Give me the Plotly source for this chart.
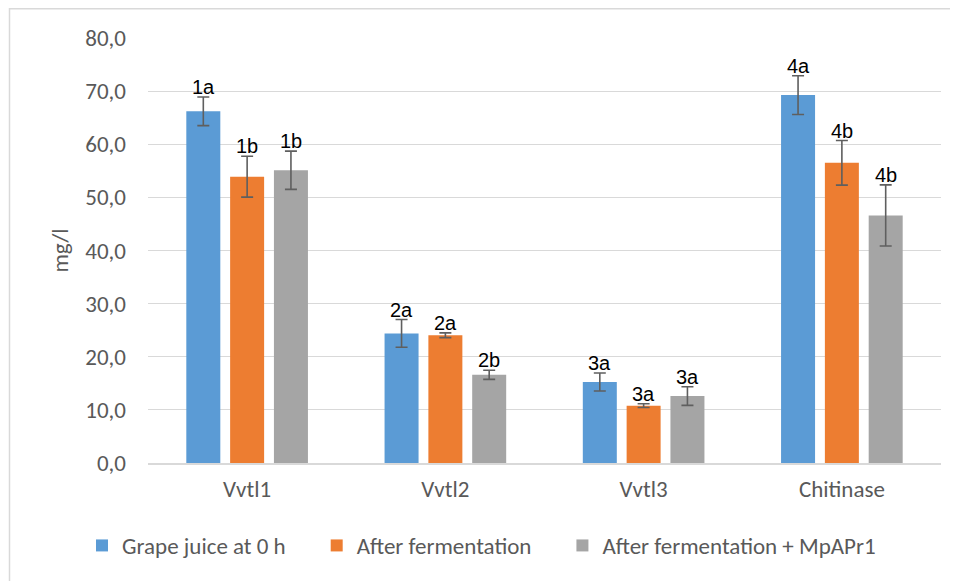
import plotly.graph_objects as go

categories = ["Vvtl1", "Vvtl2", "Vvtl3", "Chitinase"]
series_names = ["Grape juice at 0 h", "After fermentation", "After fermentation + MpAPr1"]
grape_juice = [66.2, 24.4, 15.25, 69.25]
after_ferm = [53.9, 24.05, 10.8, 56.5]
after_ferm_mp = [55.1, 16.6, 12.6, 46.6]
err_grape = [2.7, 2.6, 1.7, 3.65]
err_ferm = [3.85, 0.45, 0.35, 4.2]
err_ferm_mp = [3.6, 0.85, 1.75, 5.75]
labels_grape = ["1a", "2a", "3a", "4a"]
labels_ferm = ["1b", "2a", "3a", "4b"]
labels_ferm_mp = ["1b", "2b", "3a", "4b"]
y_ticks = [0, 10, 20, 30, 40, 50, 60, 70, 80]

values = [grape_juice, after_ferm, after_ferm_mp]
errors = [err_grape, err_ferm, err_ferm_mp]
letters = [labels_grape, labels_ferm, labels_ferm_mp]
colors = ["#5B9BD5", "#ED7D31", "#A5A5A5"]

TXT = "#595959"
FONT = "Carlito, Lato, sans-serif"
FS = 23
PAD = "\u00a0" * 5  # visual spacing between legend entries

# page body has an 8px default margin; figure is sized to fit the window
W, H = 950, 573
L, T = 140, 30
PW, PH = 793, 424.6
R = W - L - PW
B = H - T - PH

fig = go.Figure()
for k, (name, vals, errs, col) in enumerate(zip(series_names, values, errors, colors)):
    fig.add_trace(go.Bar(
        x=categories, y=vals, name=name + (PAD if k < len(series_names) - 1 else ""),
        marker=dict(color=col, line=dict(width=0)),
        error_y=dict(type="data", array=errs, visible=True,
                     color="#5f5f5f", thickness=1.6, width=6),
    ))

BARGAP = 0.337
slot = (1 - BARGAP) / 3
annotations = []
for j, (vals, errs, labs) in enumerate(zip(values, errors, letters)):
    for i, (v, e, t) in enumerate(zip(vals, errs, labs)):
        annotations.append(dict(
            x=i + (j - 1) * slot, y=v + e, xref="x", yref="y",
            text=t, showarrow=False, yanchor="bottom",
            font=dict(family="Liberation Sans, Arial, sans-serif", size=20, color="#000000"),
            yshift=-3,
        ))

fig.update_layout(
    width=W, height=H,
    margin=dict(l=L, r=R, t=T, b=B, autoexpand=False),
    paper_bgcolor="white", plot_bgcolor="white",
    barmode="group", bargap=BARGAP, bargroupgap=0.224,
    separators=",.",
    font=dict(family=FONT, color=TXT, size=FS),
    showlegend=True,
    legend=dict(orientation="h", x=(82 - 148) / PW, xanchor="left",
                y=(PH - (545 - 38)) / PH, yanchor="middle",
                font=dict(family=FONT, size=FS, color=TXT), traceorder="normal"),
    annotations=annotations,
    shapes=[dict(type="rect", xref="paper", yref="paper",
                 x0=(1.5 - L) / PW, x1=1.05, y0=-0.4, y1=(PH + T - 0.7) / PH,
                 line=dict(color="#d9d9d9", width=1.5), fillcolor="rgba(0,0,0,0)", layer="below")],
)
fig.update_yaxes(
    range=[0, 80], tickvals=y_ticks, tickformat=".1f",
    showgrid=True, gridcolor="#d9d9d9", gridwidth=1,
    zeroline=False, showline=False,
    ticklabelstandoff=21,
    tickfont=dict(family=FONT, size=FS, color=TXT),
    title=dict(text="mg/l", font=dict(family=FONT, size=FS, color=TXT), standoff=10),
)
fig.update_xaxes(
    showline=True, linecolor="#d9d9d9", linewidth=1.5,
    tickfont=dict(family=FONT, size=FS, color=TXT),
    ticks="", ticklabelstandoff=5,
)

fig.write_html("out.html")
